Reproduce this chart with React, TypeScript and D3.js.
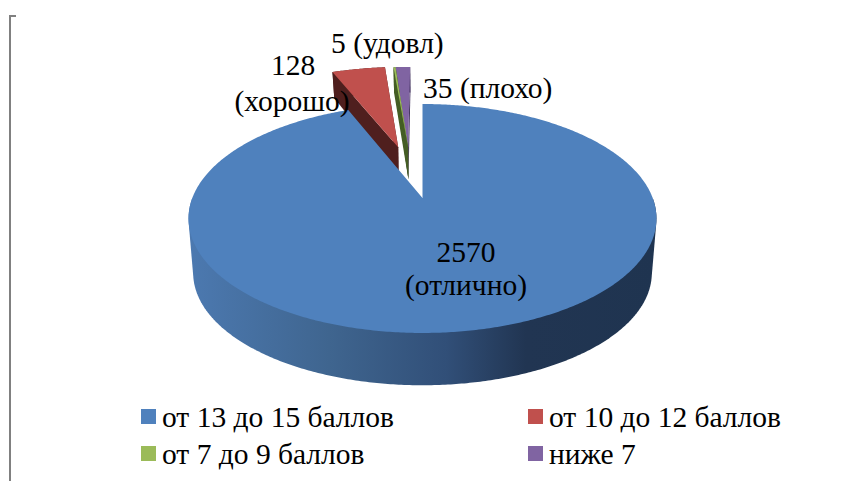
import React from "react";
import * as d3 from "d3";

const categories = ["от 13 до 15 баллов", "от 10 до 12 баллов", "от 7 до 9 баллов", "ниже 7"];
const values = [2570, 128, 5, 35];
const topColors = ["#4f81bd", "#c0504d", "#9bbb59", "#8064a2"];
const wallColors = ["url(#rim)", "#4f1f1e", "#445d24", "#3c2c58"];

// layout
const W = 862, H = 481;
const apex = { x: 422.5, y: 198 };
const K = 0.179, RX = 230.2, RY = 110.8, DEPTH = 37, BLUE_DEPTH = 55, SHRINK = 0.98;
const shifts: [number, number][] = [[0, 0], [-0.115, 0.5], [-0.068, 0.5], [-0.068, 0.5]];

const scaleAt = (v: number) => 1 / (1 + K * v);
const proj = (u: number, v: number) => {
  const s = scaleAt(v);
  return [apex.x + RX * u * s, apex.y - RY * v * s] as [number, number];
};
const projLow = (u: number, v: number, main: boolean) => {
  const s = scaleAt(v);
  return [
    apex.x + RX * u * s * SHRINK,
    apex.y - RY * v * s * SHRINK + (main ? BLUE_DEPTH : DEPTH * s * s),
  ] as [number, number];
};

const pieGen = d3.pie<number>().sort(null).startAngle(0).endAngle(2 * Math.PI);
const arcs = pieGen(values);
const line = d3.line<[number, number]>();

const circlePts = (a0: number, a1: number, su: number, sv: number) => {
  const n = Math.max(2, Math.ceil(Math.abs(a1 - a0) / 0.01));
  return d3.range(n + 1).map((i) => {
    const a = a0 + ((a1 - a0) * i) / n;
    return [su + Math.sin(a), sv + Math.cos(a)] as [number, number];
  });
};

function slicePaths(i: number) {
  const { startAngle: a0, endAngle: a1 } = arcs[i];
  const [su, sv] = shifts[i];
  const main = i === 0;
  const rimPts = circlePts(a0, a1, su, sv);
  const top = [proj(su, sv), ...rimPts.map(([u, v]) => proj(u, v))];
  // the wall swept between the upper and lower rims: for the big slice only the front half shows
  const front = main ? rimPts.filter(([, v]) => v < 0) : rimPts;
  const outer = d3.polygonHull([
    ...front.map(([u, v]) => proj(u, v)),
    ...front.map(([u, v]) => projLow(u, v, main)),
  ]) as [number, number][];
  const edge = (a: number) => {
    const p = [su + Math.sin(a), sv + Math.cos(a)] as [number, number];
    return [proj(su, sv), proj(p[0], p[1]), projLow(p[0], p[1], main), projLow(su, sv, main)] as [number, number][];
  };
  return { top, outer, wallStart: edge(a0), wallEnd: edge(a1) };
}

const serif = "'Liberation Serif', 'Times New Roman', serif";
const drawOrder = [3, 2, 1, 0];

const legendX = [141, 528];
const legendY = [409, 446];

export default function App() {
  return (
    <svg width={W} height={H} viewBox={`0 0 ${W} ${H}`} style={{ position: "absolute", left: 0, top: 0, background: "#fff" }}>
      <defs>
        <linearGradient id="rim" gradientUnits="userSpaceOnUse" x1={189} x2={657} y1={0} y2={0}>
          <stop offset="0" stopColor="#4c79b0" />
          <stop offset="0.3" stopColor="#3f658f" />
          <stop offset="0.55" stopColor="#314f78" />
          <stop offset="0.72" stopColor="#213552" />
          <stop offset="1" stopColor="#1f3450" />
        </linearGradient>
      </defs>
      <path d="M16,16 H10 V481" fill="none" stroke="#808080" strokeWidth={2} />
      {drawOrder.map((i) => {
        const p = slicePaths(i);
        return (
          <g key={categories[i]}>
            {i !== 0 && <path d={line(p.wallEnd)! + "Z"} fill={wallColors[i]} />}
            <path d={line(p.outer)! + "Z"} fill={wallColors[i]} />
            {i !== 0 && <path d={line(p.wallStart)! + "Z"} fill={wallColors[i]} />}
            <path d={line(p.top)! + "Z"} fill={topColors[i]} />
          </g>
        );
      })}
      <g fontFamily={serif} fontSize={29.5} fill="#000">
        <text x={293} y={75} textAnchor="middle">128</text>
        <text x={292} y={111} textAnchor="middle">(хорошо)</text>
        <text x={331} y={53}>5 (удовл)</text>
        <text x={423} y={98}>35 (плохо)</text>
        <text x={466} y={262} textAnchor="middle">2570</text>
        <text x={466} y={295} textAnchor="middle">(отлично)</text>
        {categories.map((c, i) => (
          <g key={c}>
            <rect x={legendX[i % 2]} y={legendY[Math.floor(i / 2)]} width={15} height={15} fill={topColors[i]} />
            <text x={legendX[i % 2] + 21} y={legendY[Math.floor(i / 2)] + 18}>{c}</text>
          </g>
        ))}
      </g>
    </svg>
  );
}
